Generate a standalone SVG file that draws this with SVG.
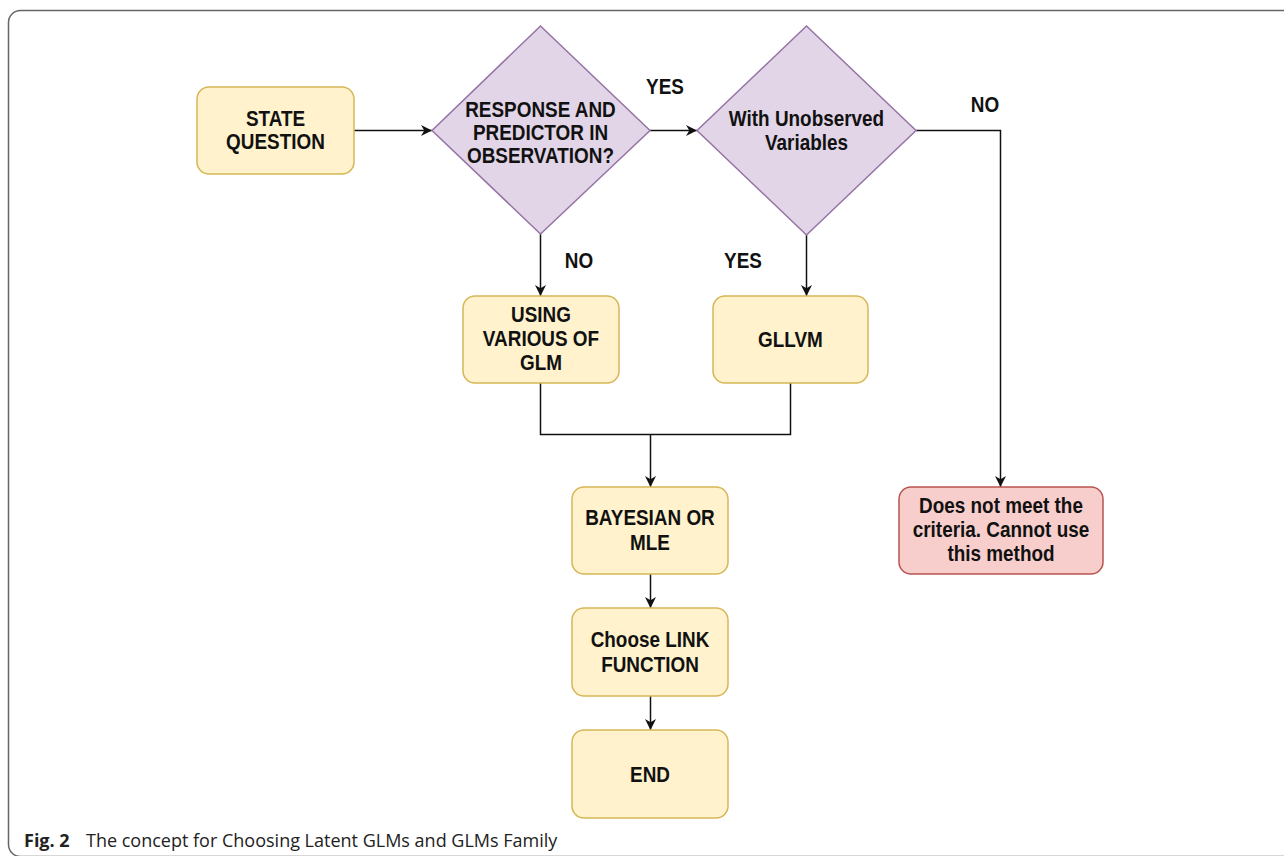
<svg xmlns="http://www.w3.org/2000/svg" width="1284" height="856" viewBox="0 0 1284 856">
  <style>
    .proc { fill: #fff2cc; stroke: #d6b656; stroke-width: 1.5; }
    .dec { fill: #e1d5e7; stroke: #9673a6; stroke-width: 1.5; }
    .bad { fill: #f8cecc; stroke: #b85450; stroke-width: 1.5; }
    .lbl { font-family: "Liberation Sans", Arial, sans-serif; font-weight: bold; font-size: 22px; fill: #111; text-anchor: middle; }
    .edge { fill: none; stroke: #111; stroke-width: 1.5; }
    .cap { font-family: "Open Sans", "Noto Sans", sans-serif; font-size: 18px; fill: #222; }
  </style>
  <defs>
    <marker id="arrow" viewBox="0 0 10 10" refX="10" refY="5" markerWidth="11" markerHeight="11" markerUnits="userSpaceOnUse" orient="auto">
      <path d="M0,0 L10,5 L0,10 L3,5 Z" fill="#111"/>
    </marker>
  </defs>

  <rect width="1284" height="856" fill="#ffffff"/>
  <!-- figure frame -->
  <rect x="8.5" y="10.5" width="1300" height="846" rx="12" fill="none" stroke="#666" stroke-width="1.5"/>

  <g id="connectors">
    <path class="edge" d="M354,130.5 L432,130.5" marker-end="url(#arrow)"/>
    <path class="edge" d="M650,130.5 L697,130.5" marker-end="url(#arrow)"/>
    <path class="edge" d="M916,130.5 L1000.5,130.5 L1000.5,487" marker-end="url(#arrow)"/>
    <path class="edge" d="M540.5,234 L540.5,296" marker-end="url(#arrow)"/>
    <path class="edge" d="M806.5,235 L806.5,296" marker-end="url(#arrow)"/>
    <path class="edge" d="M540.5,383 L540.5,434.5 L790.5,434.5 L790.5,383"/>
    <path class="edge" d="M650.5,434.5 L650.5,487" marker-end="url(#arrow)"/>
    <path class="edge" d="M650.5,574 L650.5,608" marker-end="url(#arrow)"/>
    <path class="edge" d="M650.5,696 L650.5,730" marker-end="url(#arrow)"/>
    <text class="lbl" transform="matrix(0.86,0,0,1,93.1,0)" x="665" y="94">YES</text>
    <text class="lbl" transform="matrix(0.86,0,0,1,137.9,0)" x="985" y="112">NO</text>
    <text class="lbl" transform="matrix(0.86,0,0,1,81.1,0)" x="579" y="268">NO</text>
    <text class="lbl" transform="matrix(0.86,0,0,1,104,0)" x="743" y="268">YES</text>
  </g>

  <g id="state-question">
    <rect class="proc" x="197" y="87" width="157" height="87" rx="12"/>
    <g transform="matrix(0.86,0,0,1,38.57,0)">
      <text class="lbl" x="275.5" y="126">STATE</text>
      <text class="lbl" x="275.5" y="149">QUESTION</text>
    </g>
  </g>

  <g id="decision-observation">
    <polygon class="dec" points="540.5,26 650,130.5 540.5,234 432,130.5"/>
    <g transform="matrix(0.86,0,0,1,75.67,0)">
      <text class="lbl" x="540.5" y="117">RESPONSE AND</text>
      <text class="lbl" x="540.5" y="140">PREDICTOR IN</text>
      <text class="lbl" x="540.5" y="163">OBSERVATION?</text>
    </g>
  </g>

  <g id="decision-unobserved">
    <polygon class="dec" points="806.5,26 916,130.5 806.5,235 697,130.5"/>
    <g transform="matrix(0.86,0,0,1,112.91,0)">
      <text class="lbl" x="806.5" y="126">With Unobserved</text>
      <text class="lbl" x="806.5" y="150">Variables</text>
    </g>
  </g>

  <g id="using-glm">
    <rect class="proc" x="463" y="296" width="156" height="87" rx="12"/>
    <g transform="matrix(0.86,0,0,1,75.74,0)">
      <text class="lbl" x="541" y="322">USING</text>
      <text class="lbl" x="541" y="346">VARIOUS OF</text>
      <text class="lbl" x="541" y="370">GLM</text>
    </g>
  </g>

  <g id="gllvm">
    <rect class="proc" x="713" y="296" width="155" height="87" rx="12"/>
    <g transform="matrix(0.86,0,0,1,110.67,0)">
      <text class="lbl" x="790.5" y="347">GLLVM</text>
    </g>
  </g>

  <g id="bayesian-mle">
    <rect class="proc" x="572" y="487" width="156" height="87" rx="12"/>
    <g transform="matrix(0.86,0,0,1,91,0)">
      <text class="lbl" x="650" y="525">BAYESIAN OR</text>
      <text class="lbl" x="650" y="550">MLE</text>
    </g>
  </g>

  <g id="not-criteria">
    <rect class="bad" x="899" y="487" width="204" height="87" rx="12"/>
    <g transform="matrix(0.86,0,0,1,140.14,0)">
      <text class="lbl" x="1001" y="513">Does not meet the</text>
      <text class="lbl" x="1001" y="537">criteria. Cannot use</text>
      <text class="lbl" x="1001" y="561">this method</text>
    </g>
  </g>

  <g id="link-function">
    <rect class="proc" x="572" y="608" width="156" height="88" rx="12"/>
    <g transform="matrix(0.86,0,0,1,91,0)">
      <text class="lbl" x="650" y="647">Choose LINK</text>
      <text class="lbl" x="650" y="672">FUNCTION</text>
    </g>
  </g>

  <g id="end">
    <rect class="proc" x="572" y="730" width="156" height="88" rx="12"/>
    <g transform="matrix(0.86,0,0,1,91,0)">
      <text class="lbl" x="650" y="782">END</text>
    </g>
  </g>

  <text class="cap" x="24" y="847"><tspan font-weight="bold">Fig. 2</tspan><tspan x="86">The concept for Choosing Latent GLMs and GLMs Family</tspan></text>
</svg>
